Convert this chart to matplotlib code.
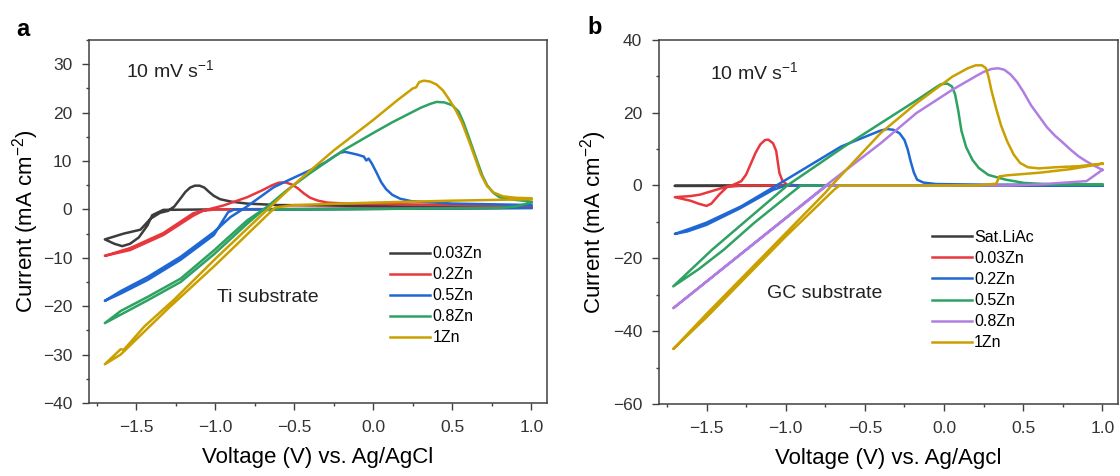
"""
CV curves of Zn deposition on Ti and GC substrates (10 mV/s).
"""

import matplotlib
matplotlib.use("Agg")
import matplotlib.pyplot as plt
from matplotlib.ticker import MultipleLocator

plt.rcParams["font.family"] = ["Liberation Sans", "DejaVu Sans"]
plt.rcParams["mathtext.default"] = "regular"

# ---- panel a: Ti substrate (voltage V, current mA cm-2) ----
a_labels = ["0.03Zn", "0.2Zn", "0.5Zn", "0.8Zn", "1Zn"]

a_v_003 = [1.0, 0.0, -0.5, -1.0, -1.33, -1.40, -1.43, -1.485, -1.54, -1.59, -1.64, -1.70,
           -1.58, -1.475, -1.41, -1.35, -1.30, -1.26, -1.22, -1.19, -1.16, -1.13, -1.10,
           -1.07, -1.04, -1.01, -0.97, -0.90, -0.80, -0.61, -0.3, 0.2, 1.0]
a_i_003 = [0.3, 0.1, 0.0, 0.0, -0.1, -1.2, -3.3, -5.8, -7.1, -7.6, -7.1, -6.2,
           -5.0, -4.2, -1.9, -0.7, -0.3, 0.6, 2.3, 3.6, 4.5, 4.9, 4.9,
           4.5, 3.6, 2.8, 2.1, 1.6, 1.2, 0.9, 0.8, 0.6, 0.5]

a_v_02 = [1.0, 0.0, -0.5, -1.0, -1.08, -1.14, -1.33, -1.54, -1.70, -1.62, -1.54, -1.33,
          -1.14, -0.95, -0.80, -0.70, -0.64, -0.60, -0.56, -0.52, -0.48, -0.44, -0.40,
          -0.35, -0.29, -0.17, 0.3, 1.0]
a_i_02 = [0.4, 0.2, 0.1, 0.0, -0.3, -1.3, -5.3, -8.4, -9.6, -8.8, -8.0, -4.9,
          -0.8, 0.8, 2.5, 4.0, 5.0, 5.5, 5.6, 5.2, 4.4, 3.3, 2.4,
          1.8, 1.4, 1.2, 1.0, 0.8]

a_v_05 = [1.0, 0.5, 0.0, -0.5, -0.88, -0.92, -1.01, -1.22, -1.43, -1.60, -1.70, -1.60,
          -1.43, -1.22, -1.01, -0.905, -0.80, -0.63, -0.50, -0.38, -0.30, -0.25, -0.21,
          -0.18, -0.14, -0.10, -0.06, -0.045, -0.03, -0.01, 0.02, 0.05, 0.08, 0.12,
          0.17, 0.24, 0.5, 1.0]
a_i_05 = [0.3, 0.2, 0.1, 0.0, 0.0, -0.6, -5.3, -10.4, -14.6, -17.4, -18.9, -16.9,
          -14.0, -9.8, -4.7, -1.6, 0.6, 4.6, 6.6, 8.4, 9.8, 10.9, 11.7,
          11.9, 11.6, 11.3, 10.9, 10.1, 10.5, 9.5, 7.6, 5.6, 4.2, 3.0,
          2.2, 1.7, 1.2, 0.9]

a_v_08 = [1.0, 0.9, 0.8, 0.0, -0.6, -0.70, -0.80, -1.01, -1.22, -1.43, -1.70, -1.60,
          -1.43, -1.22, -1.01, -0.80, -0.67, -0.55, -0.40, -0.19, 0.0, 0.12, 0.30,
          0.36, 0.40, 0.45, 0.50, 0.54, 0.57, 0.60, 0.63, 0.66, 0.69, 0.72, 0.76,
          0.80, 0.89, 1.0]
a_i_08 = [1.4, 0.6, 0.3, 0.1, 0.0, -0.2, -3.0, -9.3, -15.0, -18.8, -23.5, -21.0,
          -18.1, -14.3, -8.5, -2.3, 0.6, 3.9, 7.5, 12.2, 15.8, 18.0, 21.0,
          21.8, 22.2, 22.1, 21.5, 20.2, 18.0, 15.3, 12.5, 9.7, 7.0, 5.0, 3.4,
          2.5, 2.0, 1.6]

a_v_1 = [1.0, 0.5, 0.0, -0.5, -0.62, -0.66, -1.0, -1.30, -1.60, -1.70, -1.60, -1.58,
         -1.45, -1.26, -1.0, -0.67, -0.50, -0.25, 0.0, 0.15, 0.25, 0.27, 0.29,
         0.32, 0.36, 0.40, 0.44, 0.48, 0.52, 0.56, 0.60, 0.64, 0.68, 0.72, 0.76,
         0.82, 0.90, 1.0]
a_i_1 = [2.1, 1.8, 1.4, 0.9, 0.4, -0.8, -11.5, -20.5, -30.0, -32.0, -28.9, -29.0,
         -24.2, -18.6, -10.2, 0.0, 5.2, 12.2, 18.5, 22.5, 25.0, 25.2, 26.3,
         26.6, 26.4, 25.8, 24.6, 22.7, 20.6, 18.0, 14.6, 11.0, 7.3, 4.8, 3.5,
         2.7, 2.4, 2.3]

# ---- panel b: GC substrate ----
b_labels = ["Sat.LiAc", "0.03Zn", "0.2Zn", "0.5Zn", "0.8Zn", "1Zn"]

b_v_li = [1.0, -1.7, 1.0]
b_i_li = [0.0, -0.1, 0.0]

b_v_003 = [1.0, -1.28, -1.37, -1.42, -1.47, -1.50, -1.55, -1.60, -1.70, -1.60, -1.54,
           -1.41, -1.33, -1.28, -1.25, -1.22, -1.19, -1.16, -1.13, -1.11, -1.08, -1.06,
           -1.05, -1.04, -1.02, -0.99, -0.9, 1.0]
b_i_003 = [0.0, 0.0, -0.4, -2.5, -5.0, -5.6, -5.0, -4.2, -3.2, -2.9, -2.5,
           -0.8, 0.2, 1.2, 3.0, 6.0, 9.0, 11.3, 12.5, 12.6, 11.6, 9.5,
           6.5, 3.5, 1.2, 0.2, 0.0, 0.0]

b_v_02 = [1.0, -1.0, -1.08, -1.29, -1.50, -1.62, -1.70, -1.60, -1.50, -1.28, -1.07,
          -0.86, -0.65, -0.44, -0.40, -0.36, -0.32, -0.28, -0.25, -0.23, -0.21, -0.19,
          -0.17, -0.13, -0.05, 0.3, 1.0]
b_i_02 = [0.0, 0.0, -1.2, -6.3, -10.8, -12.6, -13.3, -11.8, -10.2, -5.7, -0.3,
          5.2, 10.7, 14.4, 15.1, 15.5, 15.3, 14.3, 12.5, 10.0, 6.5, 3.5,
          1.6, 0.8, 0.4, 0.2, 0.1]

b_v_05 = [1.0, 0.5, 0.0, -0.905, -1.0, -1.2, -1.39, -1.55, -1.71, -1.464, -0.99,
          -0.63, -0.40, -0.17, -0.06, -0.02, 0.02, 0.05, 0.07, 0.09, 0.11, 0.14,
          0.18, 0.22, 0.28, 0.39, 0.506, 0.73, 1.0]
b_i_05 = [0.2, 0.2, 0.0, 0.0, -3.3, -10.3, -17.6, -23.0, -27.7, -17.6, 0.0,
          10.7, 17.1, 23.5, 26.7, 27.8, 28.0, 27.2, 25.0, 20.5, 15.0, 10.5,
          7.0, 4.8, 2.9, 1.6, 0.7, 0.2, 0.2]

b_v_08 = [1.0, 0.9, 0.6, 0.4, -0.74, -1.71, -0.74, -0.40, -0.174, 0.053, 0.20, 0.25,
          0.30, 0.34, 0.38, 0.42, 0.46, 0.50, 0.55, 0.60, 0.65, 0.70, 0.75,
          0.80, 0.85, 0.90, 0.95, 1.0]
b_i_08 = [4.3, 1.2, 0.3, 0.0, 0.0, -33.7, 0.2, 11.6, 19.9, 26.3, 30.0, 31.2,
          32.0, 32.2, 31.8, 30.5, 28.5, 25.8, 22.0, 19.0, 16.0, 13.7, 11.8,
          9.8, 8.0, 6.6, 5.4, 4.3]

b_v_1 = [1.0, 0.8, 0.6, 0.4, 0.35, 0.33, 0.2, -0.66, -0.69, -1.0, -1.3, -1.5, -1.71,
         -1.5, -1.2, -0.75, -0.71, -0.40, -0.174, 0.053, 0.10, 0.15, 0.20, 0.24,
         0.265, 0.28, 0.30, 0.33, 0.36, 0.40, 0.44, 0.48, 0.53, 0.6, 0.7, 0.85, 1.0]
b_i_1 = [6.0, 4.5, 3.5, 2.8, 2.5, 0.5, 0.0, 0.0, -1.0, -14.0, -27.3, -36.2, -44.9,
         -35.3, -22.0, -2.0, 0.0, 14.4, 22.6, 29.9, 31.0, 32.2, 33.0, 33.0,
         32.2, 30.0, 26.0, 21.0, 16.5, 12.0, 8.5, 6.2, 5.0, 4.7, 5.0, 5.3, 6.0]

colors = {
    "black": "#3c3c3c",
    "red": "#e8383d",
    "blue": "#1f68d4",
    "green": "#2ea262",
    "purple": "#b07ee2",
    "gold": "#c9a000",
}


def style_axes(ax, ylim, ymajor, ylabelpad):
    ax.set_xlim(-1.8, 1.1)
    ax.set_ylim(*ylim)
    ax.xaxis.set_major_locator(MultipleLocator(0.5))
    ax.xaxis.set_minor_locator(MultipleLocator(0.25))
    ax.yaxis.set_major_locator(MultipleLocator(ymajor))
    ax.yaxis.set_minor_locator(MultipleLocator(ymajor / 2))
    ax.tick_params(which="both", direction="out", color="#404040",
                   labelcolor="#333333", labelsize=12.5, width=1.0)
    ax.tick_params(which="major", length=5, pad=7)
    ax.tick_params(which="minor", length=2.5)
    for s in ax.spines.values():
        s.set_color("#404040")
        s.set_linewidth(1.1)
    ax.set_ylabel("Current (mA cm$^{-2}$)", fontsize=16, labelpad=ylabelpad)
    ax.set_xlabel(ax.get_xlabel(), fontsize=16, labelpad=9)


fig = plt.figure(figsize=(11.2, 4.76), dpi=100)
lw = 1.8
leg_kw = dict(loc="upper left", frameon=False, fontsize=11.5, handlelength=2.5,
              handletextpad=0.15, labelspacing=0.38, borderpad=0, borderaxespad=0)

# panel a
ax1 = fig.add_axes([0.0795, 0.1534, 0.409, 0.7626])
ax1.plot(a_v_003, a_i_003, color=colors["black"], lw=lw, label=a_labels[0])
ax1.plot(a_v_02, a_i_02, color=colors["red"], lw=lw, label=a_labels[1])
ax1.plot(a_v_05, a_i_05, color=colors["blue"], lw=lw, label=a_labels[2])
ax1.plot(a_v_08, a_i_08, color=colors["green"], lw=lw, label=a_labels[3])
ax1.plot(a_v_1, a_i_1, color=colors["gold"], lw=lw, label=a_labels[4])
ax1.set_xlabel("Voltage (V) vs. Ag/AgCl")
style_axes(ax1, (-40, 35), 10, 1)
ax1.text(-1.563, 27.4, "10 mV s$^{-1}$", fontsize=14, color="#222222")
ax1.text(-0.987, -19.1, "Ti substrate", fontsize=14, color="#222222")
ax1.legend(bbox_to_anchor=(0.657, 0.432), **leg_kw)

# panel b
ax2 = fig.add_axes([0.5884, 0.1513, 0.41, 0.765])
ax2.plot(b_v_li, b_i_li, color=colors["black"], lw=lw, label=b_labels[0])
ax2.plot(b_v_003, b_i_003, color=colors["red"], lw=lw, label=b_labels[1])
ax2.plot(b_v_02, b_i_02, color=colors["blue"], lw=lw, label=b_labels[2])
ax2.plot(b_v_05, b_i_05, color=colors["green"], lw=lw, label=b_labels[3])
ax2.plot(b_v_08, b_i_08, color=colors["purple"], lw=lw, label=b_labels[4])
ax2.plot(b_v_1, b_i_1, color=colors["gold"], lw=lw, label=b_labels[5])
ax2.set_xlabel("Voltage (V) vs. Ag/Agcl")
style_axes(ax2, (-60, 40), 20, 3)
ax2.text(-1.475, 29.3, "10 mV s$^{-1}$", fontsize=14, color="#222222")
ax2.text(-1.12, -30.8, "GC substrate", fontsize=14, color="#222222")
ax2.legend(bbox_to_anchor=(0.594, 0.478), **leg_kw)

fig.text(16 / 1120, 1 - 30 / 476, "a", fontsize=17, fontweight="bold", va="center")
fig.text(587 / 1120, 1 - 28 / 476, "b", fontsize=17, fontweight="bold", va="center")

fig.savefig("out.png", dpi=100)
